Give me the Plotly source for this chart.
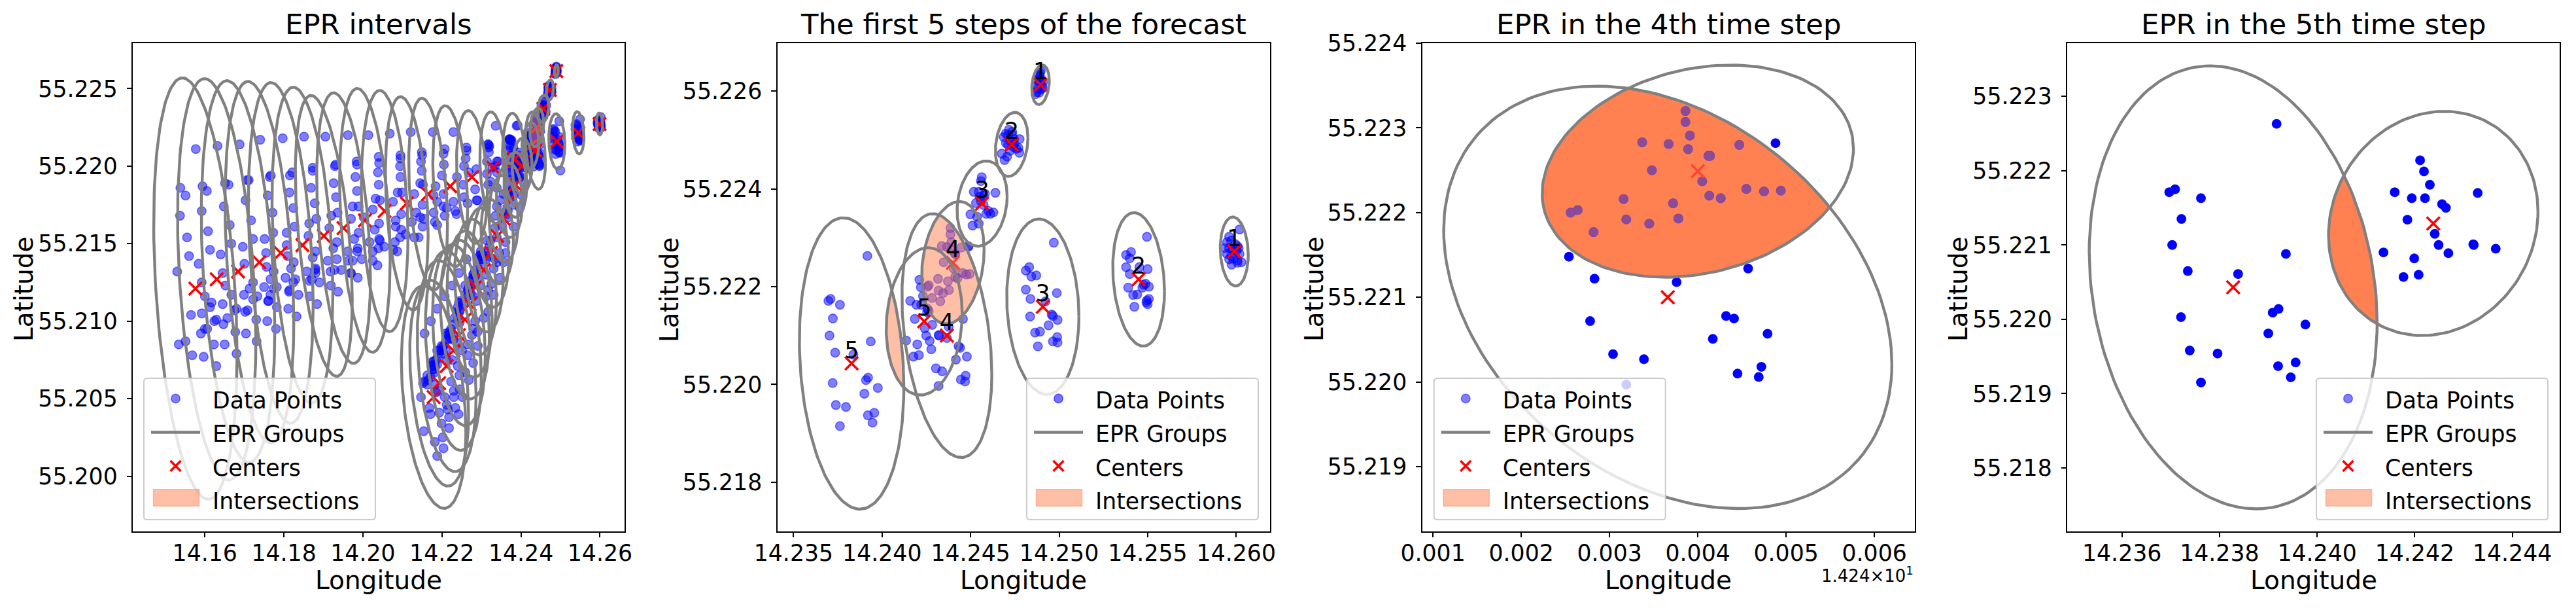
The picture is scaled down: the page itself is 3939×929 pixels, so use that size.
import math
import plotly.graph_objects as go

# ---------- chart data (longitude, latitude readings) ----------
titles = ["EPR intervals", "The first 5 steps of the forecast", "EPR in the 4th time step", "EPR in the 5th time step"]
legend_names = ["Data Points", "EPR Groups", "Centers", "Intersections"]

upper_lon = [14.25989,14.25449,14.24908,14.24366,14.23828,14.2330,14.2276,14.2221,14.2165,14.2111,14.2055,14.2005,14.1951,14.1901,14.1847,14.1792,14.1738,14.1684,14.1630,14.1576]
upper_lat = [55.22272,55.22215,55.22159,55.22100,55.22043,55.2199,55.2193,55.2187,55.2182,55.2176,55.2171,55.2165,55.2160,55.2155,55.2149,55.2144,55.2138,55.2132,55.2127,55.2121]
upper_hx = [.00079,.00146,.002038,.002538,.00295,.0034,.0039,.0044,.0049,.0054,.0059,.0064,.0068,.0072,.0077,.0082,.0087,.0093,.0099,.01055]
upper_hy = [.000706,.001365,.001794,.002493,.00298,.0036,.00428,.0052,.00618,.00688,.00778,.00851,.00873,.00906,.01019,.01099,.01166,.01231,.01294,.01359]
upper_rho = [-.1,-.18,-.11,-.317,-.16,-.19,-.24,-.29,-.32,-.29,-.21,-.3,-.37,-.45,-.3,-.3,-.33,-.3,-.31,-.31]

lower_lon = [14.24895,14.24732,14.24565,14.2440,14.24238,14.2403,14.2386,14.2371,14.2356,14.2340,14.2324,14.2306,14.2285,14.2270,14.2258,14.2243,14.2229,14.2212,14.2193,14.2179]
lower_lat = [55.22613,55.22491,55.2237,55.22249,55.22129,55.2200,55.2188,55.2178,55.2166,55.2155,55.2144,55.2133,55.2122,55.2111,55.2101,55.2091,55.2081,55.2071,55.2060,55.2051]
lower_hx = [.000495,.000919,.001414,.001763,.002146,.0025,.0029,.0033,.0037,.0041,.0045,.0049,.0053,.0057,.0062,.00667,.00706,.00744,.00744,.00816]
lower_hy = [.000405,.000655,.000873,.001252,.001508,.0018,.0021,.0024,.0028,.0031,.0035,.0040,.00438,.00472,.00512,.00584,.00644,.00681,.00664,.00718]
lower_rho = [.2,.2,.17,.21,.105,.05,0,-.05,-.08,-.1,-.12,-.15,-.18,-.2,-.22,-.24,-.26,-.28,-.3,-.32]

step1_points = [(14.24892,55.22637),(14.24888,55.22629),(14.24899,55.22625),(14.24876,55.22622),(14.24909,55.22619),(14.24892,55.22617),(14.24871,55.22611),(14.24904,55.22611),(14.24881,55.22606),(14.24895,55.22603),(14.24874,55.22598),(14.24888,55.22597),(14.24907,55.22606),(14.24867,55.22594),(14.24888,55.22633),(14.24897,55.22642),
 (14.26019,55.22317),(14.25960,55.22302),(14.25948,55.22291),(14.25971,55.22294),(14.25936,55.22279),(14.25995,55.22287),(14.26007,55.22283),(14.25960,55.22279),(14.25979,55.22275),(14.26002,55.22273),(14.25948,55.22267),(14.25971,55.22263),(14.26019,55.22267),(14.25983,55.22257),(14.26007,55.22254),(14.26030,55.2225),(14.25974,55.22245),(14.26007,55.22249),(14.25960,55.22256),(14.26014,55.22279)]
step2_points = [(14.24716,55.22521),(14.24699,55.22513),(14.24735,55.22517),(14.24687,55.22506),(14.24746,55.22502),(14.24723,55.22498),(14.24777,55.22502),(14.24711,55.2249),(14.24742,55.22486),(14.2477,55.22484),(14.24676,55.22472),(14.24706,55.22466),(14.24692,55.22459),(14.24723,55.22478),(14.24775,55.22474),(14.24758,55.22482),(14.24711,55.2251),(14.24735,55.22511),(14.24699,55.22494),(14.24746,55.22492),
 (14.25496,55.22302),(14.25406,55.22271),(14.25378,55.22265),(14.25399,55.22258),(14.25378,55.2224),(14.255,55.22236),(14.25399,55.22226),(14.25453,55.2224),(14.2539,55.22198),(14.25488,55.22206),(14.2547,55.22198),(14.25507,55.222),(14.25418,55.22183),(14.25441,55.22184),(14.25507,55.22175),(14.25496,55.22172),(14.255,55.22164),(14.25425,55.22159),(14.25477,55.22204),(14.25493,55.22168)]
step3_points = [(14.24563,55.22424),(14.24558,55.22416),(14.24518,55.22394),(14.24546,55.22394),(14.2464,55.22392),(14.24581,55.2239),(14.2453,55.22371),(14.24558,55.22375),(14.24499,55.22348),(14.24629,55.22352),(14.24588,55.22349),(14.24612,55.22349),(14.24546,55.22329),(14.24511,55.22325),(14.24487,55.22283),(14.2457,55.22386),(14.24551,55.22384),(14.24537,55.22343),(14.24574,55.22367),(14.246,55.22355),
 (14.2497,55.2229),(14.24812,55.22233),(14.24831,55.2224),(14.24843,55.22221),(14.24871,55.22223),(14.24812,55.22194),(14.24838,55.22175),(14.24987,55.22187),(14.24923,55.2217),(14.24958,55.22143),(14.24965,55.2214),(14.24836,55.22139),(14.24991,55.22132),(14.2494,55.22121),(14.24864,55.22106),(14.24892,55.22108),(14.24989,55.22097),(14.24965,55.22088),(14.24991,55.22086),(14.2488,55.22078),(14.24998,55.21972)]
step4_points = [(14.24386,55.2232),(14.24386,55.22307),(14.24391,55.22291),(14.24337,55.22283),(14.24367,55.22281),(14.24389,55.22275),(14.24447,55.2228),(14.24412,55.22267),(14.24414,55.22267),(14.24348,55.2225),(14.24405,55.22237),(14.24455,55.22228),(14.24475,55.22225),(14.24494,55.22226),(14.24413,55.2222),(14.24426,55.22217),(14.24316,55.22216),(14.24372,55.22211),(14.24264,55.22203),(14.24256,55.222),(14.24319,55.22192),(14.24345,55.22187),(14.24378,55.22193),(14.24282,55.22177),(14.24488,55.22282),
 (14.24254,55.22148),(14.24283,55.22122),(14.24376,55.22118),(14.24457,55.22134),(14.24278,55.22072),(14.24432,55.22078),(14.24441,55.22075),(14.24417,55.22051),(14.24479,55.22057),(14.24304,55.22033),(14.24339,55.22027),(14.24472,55.22018),(14.24445,55.2201),(14.24469,55.22006),(14.24319,55.21997)]
step5_points = [(14.23917,55.22263),(14.23697,55.22171),(14.23709,55.22175),(14.23762,55.22163),(14.23722,55.22135),(14.23703,55.221),(14.23735,55.22065),(14.23838,55.22061),(14.23936,55.22088),(14.23909,55.22009),(14.23921,55.22014),(14.23721,55.22003),(14.23976,55.21993),(14.239,55.21981),(14.23739,55.21958),(14.23796,55.21954),(14.23956,55.21942),(14.2392,55.21937),(14.23946,55.21922),(14.23762,55.21915),
 (14.24211,55.22214),(14.24219,55.22199),(14.24231,55.22181),(14.24159,55.22171),(14.24194,55.22163),(14.24221,55.22163),(14.24256,55.22155),(14.24264,55.2215),(14.24329,55.2217),(14.24185,55.22134),(14.24241,55.22115),(14.24249,55.221),(14.24136,55.2209),(14.24269,55.22089),(14.2432,55.22101),(14.24321,55.221),(14.24366,55.22095),(14.24199,55.22082),(14.24177,55.22057),(14.24208,55.2206)]
west_points = [(14.1577,55.2211),(14.1632,55.2213),(14.1688,55.2214),(14.1740,55.2217),(14.1797,55.2218),(14.1851,55.2219),(14.1905,55.2219),(14.1962,55.2220),(14.1538,55.2186),(14.1551,55.2181),(14.1594,55.2187),(14.1605,55.2184),(14.1651,55.2189),(14.1660,55.2188),(14.1711,55.2191),(14.1707,55.2191),(14.1764,55.2193),(14.1767,55.2194),(14.1815,55.2194),(14.1821,55.2196),(14.1873,55.2197),(14.1873,55.2199),(14.1929,55.2200),(14.1931,55.2201),(14.1926,55.2189),(14.1869,55.2186),(14.1814,55.2183),(14.1759,55.2181),(14.1703,55.2178),(14.1648,55.2174),(14.1592,55.2171),(14.1537,55.2168),(14.1932,55.2180),(14.1878,55.2176),(14.1824,55.2173),(14.1771,55.2170),(14.1717,55.2165),(14.1663,55.2162),(14.1608,55.2158),(14.1555,55.2154),(14.1560,55.2142),(14.1613,55.2146),(14.1667,55.2150),(14.1722,55.2153),(14.1751,55.2153),(14.1696,55.2148),(14.1640,55.2143),(14.1584,55.2137),(14.1530,55.2132),(14.1592,55.2125),(14.1645,55.2131),(14.1700,55.2137),(14.1755,55.2144),(14.1773,55.2157),(14.1807,55.2157),(14.1827,55.2161),(14.1864,55.2163),(14.1882,55.2166),(14.1936,55.2170),(14.1920,55.2168),(14.1915,55.2160),(14.1862,55.2155),(14.1807,55.2149),(14.1809,55.2142),(14.1825,55.2138),(14.1873,55.2141),(14.1880,55.2145),(14.1934,55.2151),(14.1925,55.2147),(14.1962,55.2145),(14.1911,55.2139),(14.1934,55.2140),(14.1964,55.2139),(14.1928,55.2133),(14.1918,55.2132),(14.1945,55.2133),(14.1969,55.2131),(14.1880,55.2134),(14.1879,55.2133),(14.1858,55.2132),(14.1880,55.2131),(14.1818,55.2134),(14.1829,55.2127),(14.1824,55.2125),(14.1804,55.2128),(14.1865,55.2126),(14.1871,55.2127),(14.1890,55.2125),(14.1919,55.2123),(14.1937,55.2119),(14.1865,55.2116),(14.1884,55.2111),(14.1837,55.2117),(14.1813,55.2119),(14.1814,55.2120),(14.1782,55.2122),(14.1774,55.2121),(14.1750,55.2122),(14.1766,55.2127),(14.1774,55.2132),(14.1756,55.2135),(14.1722,55.2125),(14.1713,55.2121),(14.1652,55.2123),(14.1600,55.2116),(14.1667,55.2117),(14.1699,55.2117),(14.1733,55.2116),(14.1722,55.2114),(14.1766,55.2117),(14.1760,55.2113),(14.1761,55.2113),(14.1782,55.2109),(14.1811,55.2108),(14.1832,55.2103),(14.1758,55.2100),(14.1730,55.2101),(14.1708,55.2107),(14.1702,55.2106),(14.1680,55.2108),(14.1675,55.2107),(14.1645,55.2111),(14.1617,55.2112),(14.1613,55.2109),(14.1565,55.2104),(14.1592,55.2105),(14.1629,55.2101),(14.1624,55.2100),(14.1647,55.2098),(14.1657,55.2102),(14.1606,55.2095),(14.1600,55.2095),(14.1590,55.2092),(14.1677,55.2093),(14.1704,55.2092),(14.1780,55.2095),(14.1731,55.2087),(14.1623,55.2085),(14.1650,55.2085),(14.1551,55.2087),(14.1534,55.2085),(14.1568,55.2078),(14.1597,55.2077),(14.1680,55.2079),(14.1629,55.2071)]
middle_points = [(14.2014,55.2220),(14.2068,55.2221),(14.2121,55.2222),(14.2177,55.2222),(14.2229,55.2222),(14.1984,55.2203),(14.1985,55.2201),(14.2040,55.2206),(14.2041,55.2202),(14.2095,55.2207),(14.2095,55.2205),(14.2149,55.2209),(14.2150,55.2207),(14.2207,55.2211),(14.2204,55.2208),(14.2262,55.2212),(14.2262,55.2210),(14.2317,55.2214),(14.2320,55.2213),(14.2372,55.2217),(14.1981,55.2193),(14.2038,55.2196),(14.2094,55.2200),(14.2147,55.2203),(14.2205,55.2201),(14.2260,55.2205),(14.2319,55.2209),(14.2256,55.2200),(14.2287,55.2198),(14.2339,55.2203),(14.2040,55.2188),(14.2095,55.2193),(14.2149,55.2197),(14.2200,55.2194),(14.2238,55.2193),(14.2267,55.2196),(14.2328,55.2199),(14.1985,55.2184),(14.2145,55.2189),(14.2184,55.2187),(14.2152,55.2188),(14.2254,55.2188),(14.2284,55.2185),(14.2032,55.2179),(14.2043,55.2178),(14.2088,55.2183),(14.2099,55.2183),(14.2076,55.2177),(14.2130,55.2182),(14.2204,55.2182),(14.2151,55.2175),(14.2179,55.2181),(14.2188,55.2177),(14.2229,55.2177),(14.2256,55.2180),(14.2290,55.2178),(14.2288,55.2178),(14.2265,55.2176),(14.2204,55.2174),(14.2212,55.2173),(14.2207,55.2168),(14.2234,55.2171),(14.2237,55.2169),(14.2179,55.2170),(14.1974,55.2174),(14.1989,55.2174),(14.2025,55.2172),(14.2002,55.2167),(14.1970,55.2166),(14.2041,55.2163),(14.2097,55.2169),(14.2083,55.2165),(14.2135,55.2170),(14.2145,55.2167),(14.2154,55.2166),(14.2151,55.2161),(14.2124,55.2164),(14.2182,55.2164),(14.2188,55.2162),(14.2083,55.2161),(14.2097,55.2159),(14.2108,55.2156),(14.2094,55.2154),(14.2030,55.2159),(14.1989,55.2157),(14.1978,55.2153),(14.2041,55.2153),(14.2043,55.2152),(14.2017,55.2151),(14.2081,55.2151),(14.2054,55.2148),(14.2039,55.2147),(14.2025,55.2145),(14.1987,55.2147),(14.1986,55.2145),(14.1974,55.2139),(14.1997,55.2140),(14.2025,55.2139),(14.2037,55.2136),(14.2077,55.2146),(14.2087,55.2145),(14.2130,55.2154),(14.2141,55.2154),(14.1970,55.2131),(14.1987,55.2128)]
south_points = [(14.2188,55.2013),(14.2204,55.2018),(14.2182,55.2022),(14.2202,55.2025),(14.2154,55.2029),(14.2218,55.2031),(14.2199,55.2034),(14.2218,55.2038),(14.2242,55.2040),(14.2234,55.2044),(14.2215,55.2043),(14.2212,55.2046),(14.2193,55.2041),(14.2171,55.2040),(14.2168,55.2044),(14.2147,55.2051),(14.2185,55.2054),(14.2190,55.2055),(14.2207,55.2051),(14.2230,55.2051),(14.2230,55.2055),(14.2252,55.2051),(14.2245,55.2056),(14.2223,55.2061),(14.2268,55.2062),(14.2244,55.2065),(14.2182,55.2059),(14.2163,55.2059),(14.2154,55.2061),(14.2163,55.2065),(14.2171,55.2064),(14.2152,55.2060),(14.2182,55.2071),(14.2179,55.2074),(14.2185,55.2075),(14.2174,55.2071),(14.2182,55.2067),(14.2240,55.2071),(14.2279,55.2073),(14.2259,55.2067),(14.2199,55.2081),(14.2201,55.2083),(14.2193,55.2081),(14.2204,55.2079),(14.2188,55.2081),(14.2212,55.2075),(14.2226,55.2075),(14.2265,55.2078),(14.2251,55.2081),(14.2265,55.2085),(14.2291,55.2084),(14.2210,55.2092),(14.2218,55.2093),(14.2221,55.2089),(14.2229,55.2088),(14.2240,55.2086),(14.2243,55.2112),(14.2245,55.2113),(14.2237,55.2106),(14.2232,55.2102),(14.2245,55.2099),(14.2279,55.2095),(14.2290,55.2093),(14.2276,55.2091),(14.2207,55.2116),(14.2188,55.2108),(14.2172,55.2100),(14.2156,55.2092),(14.2226,55.2123),(14.2243,55.2131),(14.2262,55.2140),(14.2268,55.2122),(14.2259,55.2123),(14.2273,55.2118),(14.2279,55.2116),(14.2287,55.2113),(14.2317,55.2106),(14.2306,55.2102),(14.2284,55.2100),(14.2298,55.2143),(14.2301,55.2140),(14.2303,55.2137),(14.2284,55.2133),(14.2279,55.2130),(14.2290,55.2127),(14.2312,55.2130),(14.2325,55.2124),(14.2331,55.2117),(14.2317,55.2120),(14.2312,55.2116),(14.2298,55.2123),(14.2339,55.2138),(14.2356,55.2138),(14.2347,55.2128),(14.2361,55.2144),(14.2331,55.2134),
 (14.2165,55.2062),(14.2176,55.2069),(14.2179,55.2072),(14.2190,55.2078),(14.2199,55.2084),(14.2210,55.2088),(14.2215,55.2091),(14.2223,55.2095),(14.2232,55.2098),(14.2240,55.2103),(14.2245,55.2107),(14.2254,55.2111),(14.2259,55.2117),(14.2265,55.2120),(14.2273,55.2126),(14.2281,55.2131),(14.2290,55.2135),(14.2295,55.2140),(14.2298,55.2145),
 (14.2177,55.2074),(14.2182,55.2069),(14.2188,55.2072),(14.2204,55.2084),(14.2210,55.2081),(14.2215,55.2088),(14.2221,55.2092),(14.2226,55.2091),(14.2240,55.2109),(14.2245,55.2106),(14.2248,55.2112),(14.2265,55.2116),(14.2268,55.2120),(14.2273,55.2122),(14.2279,55.2128),(14.2284,55.2129),(14.2298,55.2140),(14.2303,55.2143),(14.2295,55.2142)]
north_points = [(14.2336,55.2226),(14.2389,55.2226),(14.2375,55.2217),(14.2372,55.2217),(14.2317,55.2214),(14.2318,55.2212),(14.2373,55.2212),(14.2342,55.2203),(14.2314,55.2203),(14.2334,55.2200),(14.2339,55.2196),(14.2314,55.2195),(14.2367,55.2203),(14.2323,55.2190),(14.2339,55.2186),(14.2367,55.2199),(14.2381,55.2212),(14.2317,55.2188),
 (14.2425,55.2217),(14.2419,55.2213),(14.2416,55.2207),(14.2425,55.2203),(14.2447,55.2200),(14.2414,55.2199),(14.2441,55.2207),(14.2449,55.2208),(14.2405,55.2203),(14.2397,55.2207),(14.2394,55.2202),(14.2389,55.2198),(14.2397,55.2193),(14.2383,55.2190),(14.2408,55.2190),(14.2378,55.2185),(14.2372,55.2186),(14.2370,55.2179),(14.2381,55.2175),(14.2403,55.2181),(14.2397,55.2173),(14.2356,55.2182),(14.2347,55.2178),(14.2339,55.2174),(14.2361,55.2171),(14.2336,55.2168),(14.2367,55.2167),(14.2381,55.2161),(14.2353,55.2161),(14.2334,55.2160),(14.2323,55.2152),(14.2339,55.2154),(14.2314,55.2152),(14.2361,55.2151),(14.2317,55.2145),(14.2345,55.2144),(14.2334,55.2140),(14.2312,55.2140),
 (14.2378,55.2184),(14.2375,55.2182),(14.2381,55.2181),(14.2392,55.2199),(14.2397,55.2203),(14.2403,55.2199),(14.2422,55.2210),(14.2419,55.2206),(14.2364,55.2169),(14.2367,55.2171),(14.2320,55.2148),(14.2317,55.2142)]

panel_ranges = [([14.14175,14.26622],[55.19645,55.22793]), ([14.23408,14.26191],[55.2170,55.22698]),
                ([14.240877,14.246458],[55.21824,55.2240]), ([14.234879,14.24497],[55.21715,55.223715])]
panel_xticks = [[14.16,14.18,14.20,14.22,14.24,14.26],[14.235,14.240,14.245,14.250,14.255,14.260],
                [14.241,14.242,14.243,14.244,14.245,14.246],[14.236,14.238,14.240,14.242,14.244]]
panel_xlabels = [["14.16","14.18","14.20","14.22","14.24","14.26"],["14.235","14.240","14.245","14.250","14.255","14.260"],
                 ["0.001","0.002","0.003","0.004","0.005","0.006"],["14.236","14.238","14.240","14.242","14.244"]]
panel_yticks = [[55.200,55.205,55.210,55.215,55.220,55.225],[55.218,55.220,55.222,55.224,55.226],
                [55.219,55.220,55.221,55.222,55.223,55.224],[55.218,55.219,55.220,55.221,55.222,55.223]]
panel_ylabels = [[f"{v:.3f}" for v in t] for t in panel_yticks]

# ---------- styling / layout ----------
PAGE_MARGIN = 8          # the page body's default margin shifts the figure by this much
W, H = 3939 - PAGE_MARGIN, 929 - PAGE_MARGIN
AX_L = [203, 1188.5, 2174.5, 3161]
AX_R = [955, 1942, 2928, 3914]
AX_T, AX_B = 66, 811.6
YLABEL_X = [36, 1023, 2009, 2994]
TICK, LABEL, TITLE = 34.7, 39, 43.4
FONT = "DejaVu Sans"
BLUE_A = "rgba(0,0,255,0.5)"
CORAL_A = "rgba(255,127,80,0.5)"
GRAY = "#808080"
LEGEND_BOX_L = [220, 1570, 2192.7, 3542]
LEGEND_TOP, LEGEND_BOT = 578, 794
LEGEND_W = 354
ROW = 51.5
TWO_PI = 2 * math.pi


def PX(px):
    return (px - PAGE_MARGIN) / W


def PY(py):
    return 1 - (py - PAGE_MARGIN) / H


def ellipse(cx, cy, hx, hy, rho, n=160):
    phi = math.acos(rho)
    xs, ys = [], []
    for i in range(n + 1):
        t = TWO_PI * i / n
        xs.append(cx + hx * math.cos(t))
        ys.append(cy + hy * math.cos(t - phi))
    return xs, ys


def inside(x, y, e):
    cx, cy, hx, hy, rho = e
    u, v = (x - cx) / hx, (y - cy) / hy
    return u * u + (v - u * rho) ** 2 / (1 - rho * rho) <= 1


def intersection(a, b):
    xa, ya = ellipse(*a, n=400)
    xb, yb = ellipse(*b, n=400)
    pts = [(x, y) for x, y in zip(xa, ya) if inside(x, y, b)] + [(x, y) for x, y in zip(xb, yb) if inside(x, y, a)]
    if len(pts) < 3:
        return [], []
    mx = sum(p[0] for p in pts) / len(pts)
    my = sum(p[1] for p in pts) / len(pts)
    sx, sy = a[2], a[3]
    pts.sort(key=lambda p: math.atan2((p[1] - my) / sy, (p[0] - mx) / sx))
    pts.append(pts[0])
    return [p[0] for p in pts], [p[1] for p in pts]


upper = list(zip(upper_lon, upper_lat, upper_hx, upper_hy, upper_rho))
lower = list(zip(lower_lon, lower_lat, lower_hx, lower_hy, lower_rho))


def join(series):
    xs, ys = [], []
    for x, y in series:
        if x:
            xs += x + [None]
            ys += y + [None]
    return xs, ys


panels = [
    (west_points + middle_points + south_points + north_points + step1_points + step2_points + step3_points + step4_points + step5_points,
     list(range(20)), list(range(3, 20))),
    (step1_points + step2_points + step3_points + step4_points + step5_points, [0, 1, 2, 3, 4], [3, 4]),
    (step4_points, [3], [3]),
    (step5_points, [4], [4]),
]

fig = go.Figure()
shapes, annotations = [], []
layout = {}
sp = lambda s: f'<span style="font-size:28px">\u2002</span><span style="font-size:{TICK}px">{s}</span>'


def paper_text(text, px, py, size, **kw):
    annotations.append(dict(text=text, x=PX(px), y=PY(py), xref="paper", yref="paper", showarrow=False,
                            xanchor=kw.pop("xanchor", "center"), yanchor="middle",
                            font=dict(family=FONT, size=size, color="black"), **kw))


for k, (pts, steps, inter_steps) in enumerate(panels):
    xa = "x" if k == 0 else f"x{k+1}"
    ya = "y" if k == 0 else f"y{k+1}"
    lg = "legend" if k == 0 else f"legend{k+1}"
    common = dict(xaxis=xa, yaxis=ya, legend=lg, hoverinfo="skip")
    lon = [p[0] for p in pts]
    lat = [p[1] for p in pts]
    ells = [upper[i] for i in steps] + [lower[i] for i in steps]
    cx = [e[0] for e in ells]
    cy = [e[1] for e in ells]
    fill_x, fill_y = join(intersection(upper[i], lower[i]) for i in inter_steps)
    line_x, line_y = join(ellipse(*e) for e in ells)
    solid = k >= 2
    fill_color = "#FF8152" if solid else CORAL_A
    fill_trace = go.Scatter(x=fill_x, y=fill_y, mode="lines", fill="toself", fillcolor=fill_color,
                            line=dict(width=0, color="rgba(0,0,0,0)"), showlegend=False, **common)
    if solid:
        fig.add_trace(fill_trace)
    fig.add_trace(go.Scatter(x=lon, y=lat, mode="markers", name=sp(legend_names[0]), legendrank=1,
                             marker=dict(size=13.5, color=BLUE_A, line=dict(width=1.6, color=BLUE_A)), **common))
    x_colors = "#FF0000"
    if solid:
        f_in = [inside(x, y, upper[steps[0]]) and inside(x, y, lower[steps[0]]) for x, y in zip(lon, lat)]
        fig.add_trace(go.Scatter(x=lon, y=lat, mode="markers", showlegend=False,
                                 marker=dict(size=14.5, color=["#8C4B96" if f else "#0000FF" for f in f_in],
                                             line=dict(width=0)), **common))
        x_colors = ["#FF4433" if inside(x, y, upper[steps[0]]) and inside(x, y, lower[steps[0]]) else "#FF0000"
                    for x, y in zip(cx, cy)]
    fig.add_trace(go.Scatter(x=cx, y=cy, mode="markers", name=sp(legend_names[2]), legendrank=3,
                             marker=dict(symbol="x-thin", size=20, color=x_colors, line=dict(width=3.6, color=x_colors)), **common))
    if not solid:
        fig.add_trace(fill_trace)
    fig.add_trace(go.Scatter(x=line_x, y=line_y, mode="lines", name=sp(legend_names[1]), legendrank=2,
                             line=dict(color=GRAY, width=4.4), **common))
    # legend entry for the intersection patch, whose swatch is drawn as a shape below
    fig.add_trace(go.Scatter(x=[None], y=[None], mode="lines", name=sp(legend_names[3]), legendrank=4,
                             line=dict(width=0, color="rgba(0,0,0,0)"), **common))
    if k == 1:
        labels = [str(i + 1) for i in steps] * 2
        fig.add_trace(go.Scatter(x=cx, y=cy, mode="text", text=labels, textposition="top center", showlegend=False,
                                 textfont=dict(family=FONT, size=TICK, color="black"), **common))

    xr, yr = panel_ranges[k]
    axis = dict(showgrid=False, zeroline=False, showline=True, linecolor="black", linewidth=1.7, mirror=True,
                ticks="outside", ticklen=7.5, tickwidth=1.7, tickcolor="black", automargin=False,
                tickfont=dict(family=FONT, size=TICK, color="black"))
    layout["xaxis" if k == 0 else f"xaxis{k+1}"] = dict(
        axis, domain=[PX(AX_L[k]), PX(AX_R[k])], range=xr, anchor=ya, tickmode="array",
        tickvals=panel_xticks[k], ticktext=panel_xlabels[k], ticklabelstandoff=-6)
    layout["yaxis" if k == 0 else f"yaxis{k+1}"] = dict(
        axis, domain=[PY(AX_B), PY(AX_T)], range=yr, anchor=xa, tickmode="array",
        tickvals=panel_yticks[k], ticktext=panel_ylabels[k], ticklabelstandoff=7)
    mid = (AX_L[k] + AX_R[k]) / 2
    paper_text(titles[k], mid, 37, TITLE)
    paper_text("Longitude", mid, 886, LABEL)
    paper_text("Latitude", YLABEL_X[k], 442, LABEL, textangle=-90)

    # legend frame (rounded) and intersection swatch
    bl = LEGEND_BOX_L[k]
    l, r = PX(bl), PX(bl + LEGEND_W)
    t, b = PY(LEGEND_TOP), PY(LEGEND_BOT)
    rx, ry = 5 / W, 5 / H
    path = (f"M{l+rx},{t} L{r-rx},{t} Q{r},{t} {r},{t-ry} L{r},{b+ry} Q{r},{b} {r-rx},{b} "
            f"L{l+rx},{b} Q{l},{b} {l},{b+ry} L{l},{t-ry} Q{l},{t} {l+rx},{t} Z")
    shapes.append(dict(type="path", path=path, xref="paper", yref="paper", layer="above",
                       fillcolor="rgba(255,255,255,0.8)", line=dict(color="#CCCCCC", width=2)))
    shapes.append(dict(type="rect", xref="paper", yref="paper", layer="above",
                       x0=PX(bl + 14.5), x1=PX(bl + 84.5), y0=PY(773.3), y1=PY(747.7),
                       fillcolor=CORAL_A, line=dict(color=CORAL_A, width=1.5)))
    layout[lg] = dict(x=PX(bl + 6), y=PY(604 - ROW / 2), xanchor="left", yanchor="top",
                      bgcolor="rgba(0,0,0,0)", borderwidth=0, itemwidth=75, tracegroupgap=0,
                      traceorder="normal", itemclick=False, itemdoubleclick=False,
                      font=dict(family=FONT, size=37.3, color="black"))

paper_text("1.424×10<sup>1</sup>", 2928, 878, 26, xanchor="right")

fig.update_layout(width=W, height=H, margin=dict(l=0, r=0, t=0, b=0, autoexpand=False), paper_bgcolor="white", plot_bgcolor="white",
                  autosize=False, shapes=shapes, annotations=annotations, **layout)
fig.write_html("out.html")
